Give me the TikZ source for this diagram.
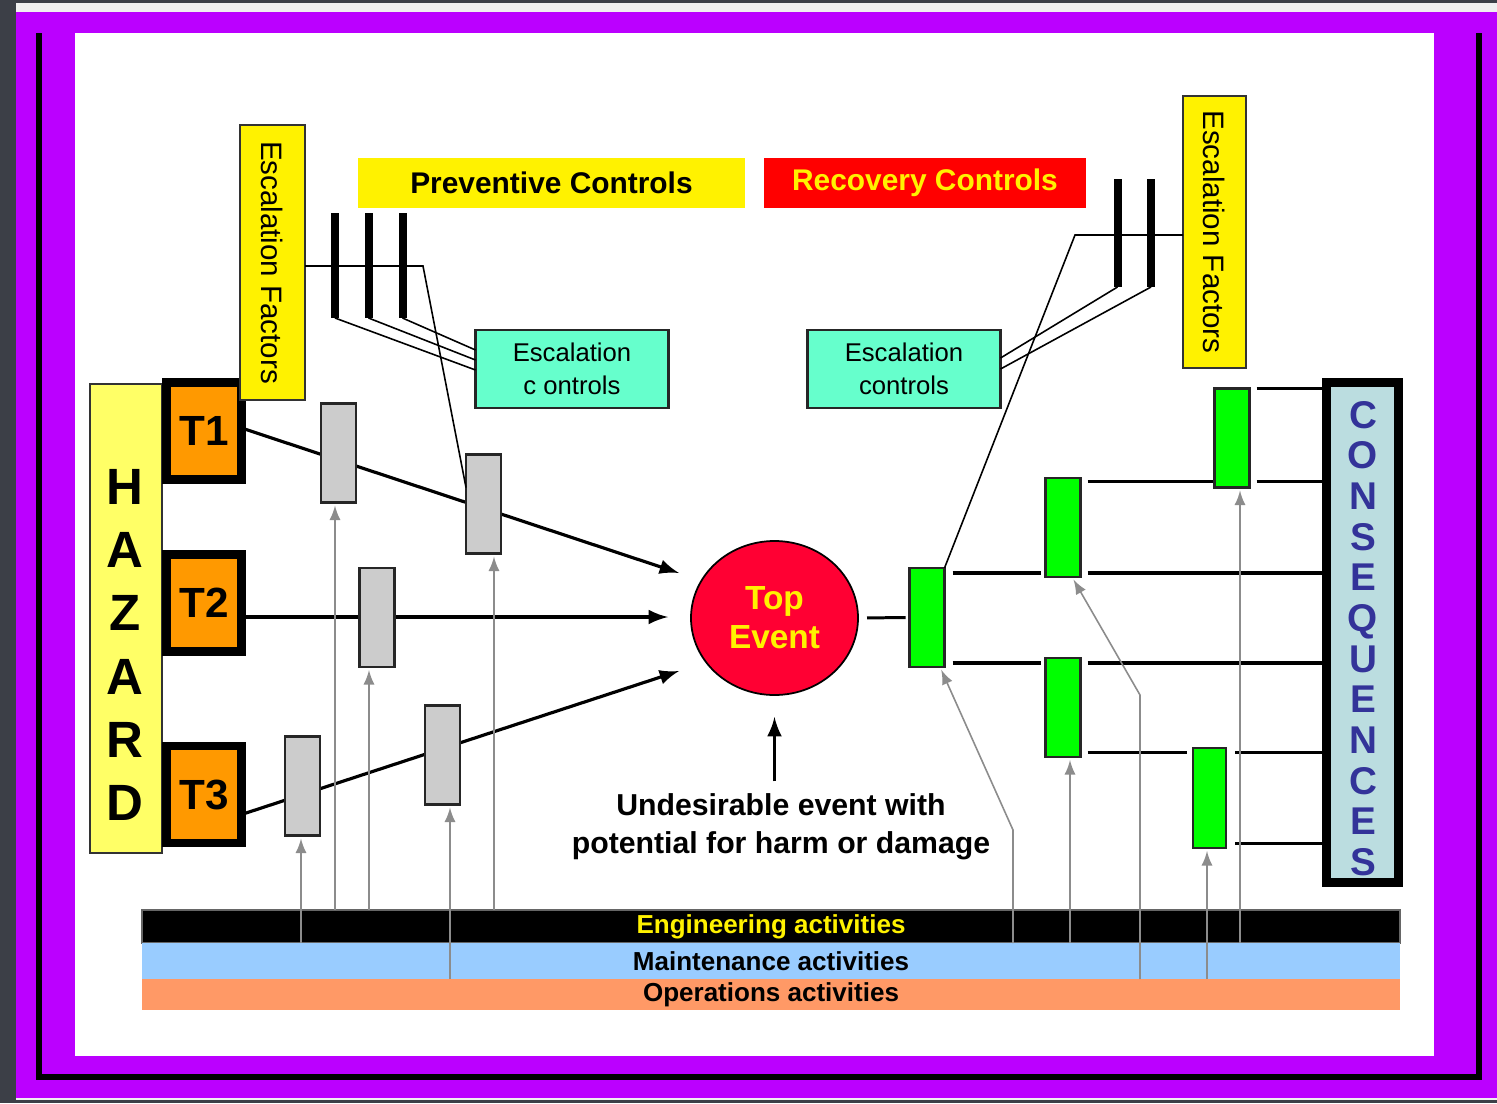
\documentclass[tikz,border=0pt]{standalone}
\usepackage{fontspec}
\setmainfont{Liberation Sans}
\usetikzlibrary{shapes.geometric}

\newlength\pu
\setlength\pu{0.01cm}

\definecolor{bggrey}{HTML}{3C3F47}
\definecolor{framepurple}{HTML}{BB00FF}
\definecolor{hazyellow}{HTML}{FFFF66}
\definecolor{threatorange}{HTML}{FF9900}
\definecolor{esccyan}{HTML}{66FFCC}
\definecolor{barrgrey}{HTML}{CCCCCC}
\definecolor{recgreen}{HTML}{00FF00}
\definecolor{topred}{HTML}{FF0033}
\definecolor{consblue}{HTML}{BBDDE0}
\definecolor{consink}{HTML}{333399}
\definecolor{mntblue}{HTML}{99CCFF}
\definecolor{opsorange}{HTML}{FF9966}
\definecolor{actgrey}{HTML}{8C8C8C}

\tikzset{
	bare/.style={inner sep=0pt, outer sep=0pt},
	barrier/.style={bare, draw=black!85, line width=0.6pt, fill=barrgrey, minimum width=35\pu, minimum height=99\pu},
	recovery/.style={barrier, fill=recgreen},
	threat/.style={bare, draw=black, line width=2.5pt, fill=threatorange, minimum width=75\pu, minimum height=97\pu, font=\fontsize{12}{14}\selectfont\bfseries},
	factor/.style={bare, draw=black!80, line width=0.5pt, fill=yellow, rotate=-90, font=\fontsize{8.4}{10}\selectfont},
	heading/.style={bare, minimum height=50\pu, font=\fontsize{8.5}{10}\selectfont\bfseries},
	esccontrol/.style={bare, draw=black!85, line width=0.7pt, fill=esccyan, minimum width=193\pu, minimum height=78\pu, align=center, font=\fontsize{7.3}{9.4}\selectfont},
	stopper/.style={bare, fill=black, minimum width=8\pu},
	activity/.style={bare, minimum width=1258\pu, font=\fontsize{7.4}{9}\selectfont\bfseries},
	path line/.style={draw=black, line width=0.9pt, >=latex},
	thin line/.style={draw=black, line width=0.45pt},
	branch/.style={draw=black, line width=0.85pt},
	act/.style={draw=actgrey, line width=0.45pt, ->, >=latex, shorten >=3\pu},
}

\begin{document}
\begin{tikzpicture}[x=0.01cm, y=-0.01cm]
	\useasboundingbox (0,0) rectangle (1497,1103);
	% frame
	\fill[bggrey] (0,0) rectangle (1497,1103);
	\fill[white!94!black] (16,3) rectangle (1497,1100);
	\fill[framepurple] (16,12) rectangle (1497,1098);
	\fill[white] (75,33) rectangle (1434,1056);
	\draw[line width=1.6pt] (39,33) -- (39,1077) -- (1479,1077) -- (1479,33);

	% activities
	\node[activity, fill=black, draw=black!60, line width=0.4pt, minimum height=33\pu, text=yellow] (eng) at (771,926.5) {Engineering activities};
	\node[activity, fill=mntblue, minimum height=36\pu] (mnt) at (771,961) {Maintenance activities};
	\node[activity, fill=opsorange, minimum height=31\pu] (ops) at (771,994.5) {Operations activities};

	% hazard and threats
	\node[bare, draw=black!80, line width=0.5pt, fill=hazyellow, minimum width=72\pu, minimum height=469\pu] (hazard) at (126,618.5) {};
	\node[align=center, font=\fontsize{14.5}{18}\selectfont\bfseries] (hazlbl) at (125,645) {H\\A\\Z\\A\\R\\D};
	\node[threat] (T1) at (204,431) {T1};
	\node[threat] (T2) at (204,603) {T2};
	\node[threat] (T3) at (204,794.5) {T3};

	\coordinate (in1) at (679,573);
	\coordinate (in2) at (668,617);
	\coordinate (in3) at (679,671);
	\draw[path line, ->] ([yshift=3\pu]T1.east) -- (in1);
	\draw[path line, ->] ([yshift=-14\pu]T2.east) -- (in2);
	\draw[path line, ->] ([yshift=-20\pu]T3.east) -- (in3);

	% preventive side
	\node[barrier] (L1a) at (338.5,453) {};
	\node[barrier] (L1b) at (483.5,504) {};
	\node[barrier] (L2) at (377,617.5) {};
	\node[barrier] (L3a) at (302.5,786) {};
	\node[barrier] (L3b) at (442.5,755) {};

	\node[heading, fill=yellow, minimum width=387\pu] (prev) at (551.5,183) {Preventive Controls};
	\node[heading, fill=red, text=yellow, minimum width=322\pu] (recv) at (925,183) {Recovery Controls};

	\node[factor, minimum width=275\pu, minimum height=65\pu] (efacL) at (272.5,262.5) {Escalation Factors};
	\node[factor, minimum width=272\pu, minimum height=63\pu] (efacR) at (1214.5,232) {Escalation Factors};
	\node[esccontrol] (escL) at (572,369) {Escalation\\c ontrols};
	\node[esccontrol] (escR) at (904,369) {Escalation\\controls};

	\coordinate (kinkL) at (423,266);
	\draw[thin line] (efacL.north |- kinkL) -- (kinkL) -- ([yshift=-33\pu]L1b.north west);
	\foreach \n/\x in {1/335,2/368.5,3/402.5}
		\node[stopper, minimum height=105\pu] (sL\n) at (\x,265.5) {};
	\foreach \n/\dy in {1/-1,2/9,3/19}
		\draw[thin line] (sL\n.south) -- ([yshift=\dy\pu]escL.west);

	% top event
	\node[bare, ellipse, draw=black, line width=0.5pt, fill=topred, minimum width=167\pu, minimum height=154\pu, text=yellow, align=center, font=\fontsize{9.5}{11}\selectfont\bfseries] (top) at (774.5,618) {Top\\Event};
	\node[align=center, font=\fontsize{8.6}{10.8}\selectfont\bfseries] (undes) at (781,827) {Undesirable event with\\potential for harm or damage};
	\draw[path line, ->] (top.south |- undes.north) -- ([yshift=-22\pu]top.south);

	% recovery side
	\node[recovery] (G1) at (927,617.5) {};
	\node[recovery] (G2) at (1063,527.5) {};
	\node[recovery] (G3) at (1063,707.5) {};
	\node[recovery] (G4) at (1232,438) {};
	\node[recovery, minimum width=33\pu, minimum height=100\pu] (G5) at (1209.5,798) {};
	\draw[branch, shorten <=9\pu, shorten >=4\pu] (top.east) -- (G1.west);

	\coordinate (kinkR) at (1075,235);
	\draw[thin line] (efacR.south |- kinkR) -- (kinkR) -- (G1.north east);
	\foreach \n/\x in {1/1117.5,2/1151}
		\node[stopper, minimum height=108\pu] (sR\n) at (\x,233) {};
	\draw[thin line] ([yshift=11\pu]escR.east) -- (sR1.south);
	\draw[thin line] (escR.east) -- (sR2.south);

	\node[bare, draw=black, line width=2.6pt, fill=consblue, minimum width=72\pu, minimum height=500\pu] (cons) at (1362.5,632.5) {};
	\node[text=consink, align=center, font=\fontsize{11}{11.56}\selectfont\bfseries] (conslbl) at (1363,638.5) {C\\O\\N\\S\\E\\Q\\U\\E\\N\\C\\E\\S};

	\foreach \n/\y in {1/388,2/481,3/573,4/663,5/752,6/843}
		\coordinate (b\n) at (0,\y);
	\draw[branch, line width=1.3pt, shorten <=8\pu, shorten >=5\pu] (G1.east |- b3) -- (G2.west |- b3);
	\draw[branch, line width=1.3pt, shorten <=7\pu] (G2.east |- b3) -- (cons.west |- b3);
	\draw[branch, line width=1.3pt, shorten <=8\pu, shorten >=5\pu] (G1.east |- b4) -- (G3.west |- b4);
	\draw[branch, line width=1.3pt, shorten <=7\pu] (G3.east |- b4) -- (cons.west |- b4);
	\draw[branch, shorten <=7\pu, shorten >=2\pu] (G2.east |- b2) -- (G4.west |- b2);
	\draw[branch, shorten <=7\pu] (G4.east |- b2) -- (cons.west |- b2);
	\draw[branch, shorten <=7\pu, shorten >=6\pu] (G3.east |- b5) -- (G5.west |- b5);
	\draw[branch, shorten <=9\pu] (G5.east |- b5) -- (cons.west |- b5);
	\draw[branch, shorten <=7\pu] (G4.east |- b1) -- (cons.west |- b1);
	\draw[branch, shorten <=9\pu] (G5.east |- b6) -- (cons.west |- b6);

	% support from activities
	\foreach \b/\dx/\src in {L3a/-1.5/eng.south, L1a/-3.5/eng.north, L2/-8/eng.north, L3b/7.5/mnt.south, L1b/10.5/eng.north, G3/7/eng.south, G5/-2.5/mnt.south, G4/8/eng.south}
		\draw[act] ([xshift=\dx\pu]\b.south |- \src) -- ([xshift=\dx\pu]\b.south);
	\coordinate (bendG1) at (1013,830);
	\coordinate (bendG2) at (1140,695);
	\draw[act] (bendG1 |- eng.south) -- (bendG1) -- ([xshift=13\pu]G1.south);
	\draw[act] (bendG2 |- mnt.south) -- (bendG2) -- ([xshift=9\pu]G2.south);
\end{tikzpicture}
\end{document}
